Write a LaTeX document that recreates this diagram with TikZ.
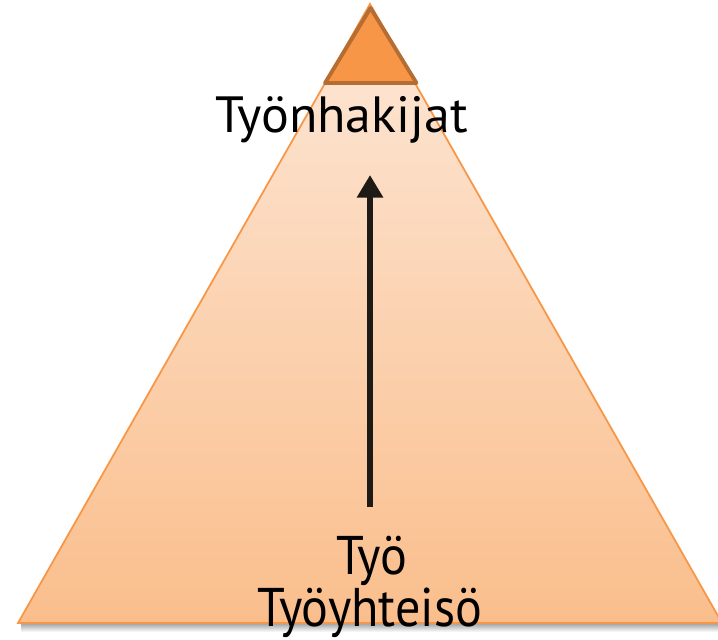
\documentclass[tikz,border=0pt]{standalone}
\usepackage{fontspec}
\setmainfont{PT Sans}
\usetikzlibrary{arrows.meta,positioning}

\definecolor{peachtop}{RGB}{253,232,216}
\definecolor{peachbot}{RGB}{250,190,140}
\definecolor{orangeline}{RGB}{247,150,70}
\definecolor{capfill}{RGB}{247,150,70}
\definecolor{capline}{RGB}{182,109,49}
\definecolor{arrowcol}{RGB}{30,26,22}

\tikzset{
  pyramid/.style={draw=orangeline,line width=1pt,top color=peachtop,bottom color=peachbot},
  captri/.style={draw=capline,fill=capfill,line width=2.2pt,line join=round},
  word/.style={font=\fontsize{29}{31}\selectfont,inner sep=0pt,anchor=base},
  riser/.style={draw=arrowcol,line width=3.8pt,-{Triangle[width=0.5cm,length=0.45cm]}}
}

\begin{document}
\begin{tikzpicture}
\useasboundingbox (0,0) rectangle (14.36,12.78);
% big pyramid
\coordinate (bl) at (0.36,0.32);
\coordinate (br) at (14.44,0.32);
\coordinate (top) at (7.4,12.7);
\shade[top color=gray!75,bottom color=white] (0.42,0.14) rectangle (14.44,0.32);
\path[pyramid] (bl) -- (br) -- (top) -- cycle;

% small cap triangle
\path[captri] (7.41,12.62) -- (6.5,11.12) -- (8.33,11.12) -- cycle;

% labels
\node[word,xscale=1.02] (seekers) at (6.83,10.12) {Työnhakijat};
\node[word,font=\fontsize{31}{33}\selectfont,xscale=0.92] (work) at (7.44,1.3) {Työ};
\node[word,font=\fontsize{31}{33}\selectfont,xscale=0.92] (community) at (7.4,0.25) {Työyhteisö};

% arrow
\coordinate (foot) at (7.4,2.64);
\coordinate (head) at (7.4,9.28);
\draw[riser] (foot) -- (head);
\end{tikzpicture}
\end{document}
